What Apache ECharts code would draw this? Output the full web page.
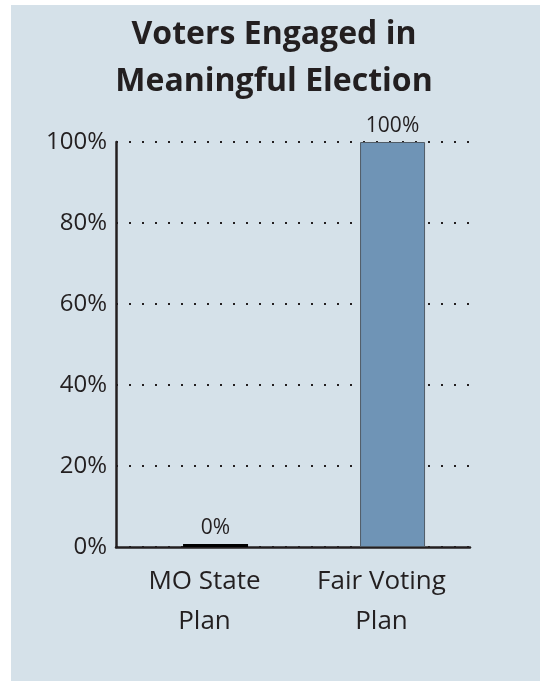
<!DOCTYPE html>
<html>
<head>
<meta charset="utf-8">
<script src="https://cdn.jsdelivr.net/npm/echarts@6/dist/echarts.min.js"></script>
<style>
html, body { margin: 0; padding: 0; background: #ffffff; }
#chart { width: 540px; height: 681px; }
</style>
</head>
<body>
<div id="chart"></div>
<script>
// data
var categories = ['MO State\nPlan', 'Fair Voting\nPlan'];
var values = [0, 100];
var yTicks = [0, 20, 40, 60, 80, 100];

var ink = '#231f20';
var chart = echarts.init(document.getElementById('chart'));

var option = {
    backgroundColor: '#ffffff',
    graphic: [{
        type: 'rect',
        left: 11, top: 5,
        shape: { width: 529, height: 676 },
        style: { fill: '#d5e1e9' },
        z: -10
    }],
    title: {
        text: 'Voters Engaged in\nMeaningful Election',
        left: 269,
        textAlign: 'center',
        top: 6,
        textStyle: {
            fontFamily: 'Open Sans',
            fontWeight: 'bold',
            fontSize: 32,
            lineHeight: 47,
            color: ink
        }
    },
    grid: {
        left: 116,
        right: 70,
        top: 142,
        bottom: 134
    },
    xAxis: {
        type: 'category',
        data: categories,
        axisLine: { lineStyle: { color: ink, width: 2.5 } },
        axisTick: { show: false },
        axisLabel: {
            fontFamily: 'Open Sans',
            fontSize: 26,
            lineHeight: 40,
            color: ink,
            margin: 15
        }
    },
    yAxis: {
        type: 'value',
        min: 0,
        max: 100,
        interval: 20,
        axisLine: { show: true, lineStyle: { color: ink, width: 2.5 } },
        axisTick: { show: false },
        axisLabel: {
            fontFamily: 'Open Sans',
            fontSize: 24,
            color: ink,
            margin: 9,
            formatter: function (v) {
                return yTicks.indexOf(v) >= 0 ? v + '%' : '';
            }
        },
        splitLine: {
            show: true,
            lineStyle: { color: ink, width: 2, type: [2, 11] }
        }
    },
    series: [{
        // empty spacer so the real bars sit a little right of the category centre
        type: 'bar',
        data: [null, null],
        barWidth: 65,
        barGap: '-66%',
        silent: true
    }, {
        type: 'bar',
        data: values.map(function (v) {
            return v === 0
                ? { value: v, itemStyle: { color: '#000000', borderWidth: 0 } }
                : v;
        }),
        barWidth: 65,
        barMinHeight: 3,
        itemStyle: {
            color: '#6f94b6',
            borderColor: '#4f5b66',
            borderWidth: 1
        },
        label: {
            show: true,
            position: 'top',
            distance: 5,
            fontFamily: 'Open Sans',
            fontSize: 21,
            color: ink,
            formatter: '{c}%'
        }
    }]
};

chart.setOption(option);
</script>
</body>
</html>
